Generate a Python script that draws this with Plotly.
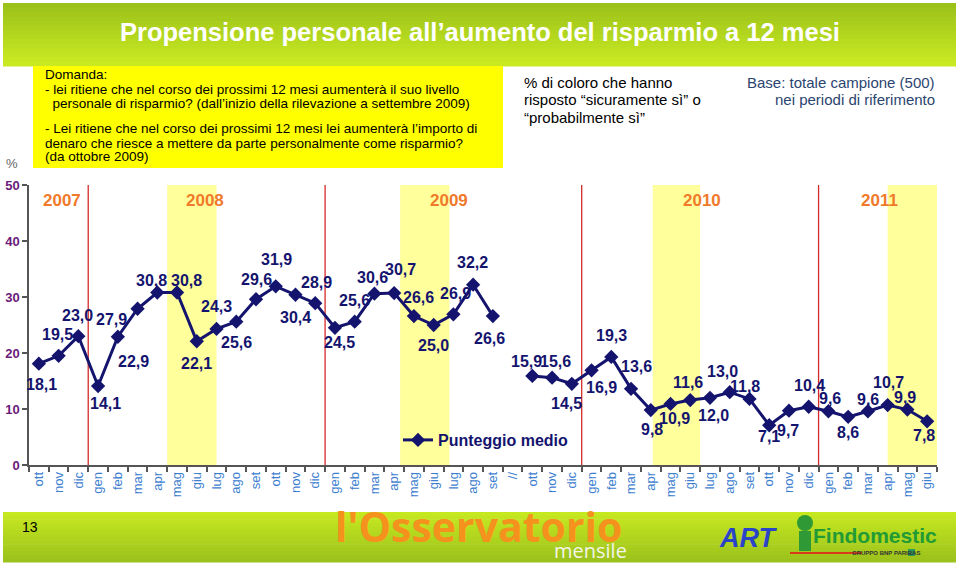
import plotly.graph_objects as go

# ---------------- data ----------------
months = ["ott", "nov", "dic",
          "gen", "feb", "mar", "apr", "mag", "giu", "lug", "ago", "set", "ott", "nov", "dic",
          "gen", "feb", "mar", "apr", "mag", "giu", "lug", "ago", "set", "//", "ott", "nov", "dic",
          "gen", "feb", "mar", "apr", "mag", "giu", "lug", "ago", "set", "ott", "nov", "dic",
          "gen", "feb", "mar", "apr", "mag", "giu"]
values = [18.1, 19.5, 23.0,
          14.1, 22.9, 27.9, 30.8, 30.8, 22.1, 24.3, 25.6, 29.6, 31.9, 30.4, 28.9,
          24.5, 25.6, 30.6, 30.7, 26.6, 25.0, 26.9, 32.2, 26.6, None, 15.9, 15.6, 14.5,
          16.9, 19.3, 13.6, 9.8, 10.9, 11.6, 12.0, 13.0, 11.8, 7.1, 9.7, 10.4,
          9.6, 8.6, 9.6, 10.7, 9.9, 7.8]
years = ["2007", "2008", "2009", "2010", "2011"]
year_label_pos = [1.15, 8.4, 20.8, 33.6, 42.6]
year_boundaries = [2.5, 14.5, 27.5, 39.5]
summer_bands = [(6.5, 9.0), (18.3, 20.8), (31.1, 33.5), (43.0, 45.7)]
series_name = "Punteggio medio"

# label offsets in pixels (dx right, dy down) -- style only
label_offsets = [(3, 21), (-1, -21), (-1, -21), (7, 17), (16, 25), (-26, 11), (-6, -12), (9, -12),
                 (0, 22), (0, -22), (0, 21), (0, -20), (1, -27), (0, 23), (1, -21), (5, 15),
                 (0, -21), (-2, -16), (6, -24), (5, -19), (0, 20), (2, -21), (-1, -22), (-3, 22),
                 None, (-6, -14), (3, -16), (-5, 20), (10, 17), (0, -21), (5, -22), (1, 19),
                 (4, 15), (-2, -18), (3, 18), (-7, -21), (-4, -12), (0, 11), (-1, 20), (1, -21),
                 (2, -13), (0, 16), (0, -12), (1, -23), (-2, -12), (-3, 14)]

# ---------------- layout geometry ----------------
W, H = 960, 563
L, R, T, B = 29, 23, 185, 98
PW, PH = W - L - R, H - T - B
FONT = "Liberation Sans, Arial, sans-serif"
NAVY = "#14146e"


def px(x):
    return (x - L) / PW


def py(y):
    return (H - B - y) / PH


xs = list(range(len(months)))

fig = go.Figure()
fig.add_trace(go.Scatter(
    x=xs, y=values, mode="lines+markers", name="<b>" + series_name + "</b>",
    line=dict(color=NAVY, width=3),
    marker=dict(symbol="diamond", size=11, color=NAVY),
    connectgaps=False, hoverinfo="skip"))

shapes = []
annotations = []

# summer bands
for x0, x1 in summer_bands:
    shapes.append(dict(type="rect", xref="x", yref="y", x0=x0, x1=x1, y0=0, y1=50.3,
                       fillcolor="#ffff9c", line=dict(width=0), layer="below"))
# year boundaries
for xb in year_boundaries:
    shapes.append(dict(type="line", xref="x", yref="y", x0=xb, x1=xb, y0=0, y1=50.3,
                       line=dict(color="#d42a2a", width=1.3), layer="below"))


def hex_mix(c1, c2, t):
    a = [int(c1[i:i + 2], 16) for i in (1, 3, 5)]
    b = [int(c2[i:i + 2], 16) for i in (1, 3, 5)]
    return "#%02x%02x%02x" % tuple(round(a[k] + (b[k] - a[k]) * t) for k in range(3))


def gradient_bar(y_top, y_bot, c_top, c_bot, n=14):
    h = (y_bot - y_top) / n
    for k in range(n):
        shapes.append(dict(type="rect", xref="paper", yref="paper",
                           x0=px(3), x1=px(956), y0=py(y_top + k * h), y1=py(y_top + (k + 1) * h + 0.6),
                           fillcolor=hex_mix(c_top, c_bot, k / (n - 1)), line=dict(width=0), layer="above"))


gradient_bar(3, 66, "#9cc21a", "#c9ea22")
gradient_bar(512, 562, "#c6e821", "#9cc21c")

# yellow question box
shapes.append(dict(type="rect", xref="paper", yref="paper", x0=px(33), x1=px(503), y0=py(168), y1=py(66),
                   fillcolor="#ffff00", line=dict(width=0), layer="above"))

# Findomestic underline + figure
shapes.append(dict(type="line", xref="paper", yref="paper", x0=px(790), x1=px(862), y0=py(553), y1=py(553),
                   line=dict(color="#d83a1a", width=2), layer="above"))
shapes.append(dict(type="circle", xref="paper", yref="paper", x0=px(797), x1=px(813), y0=py(531), y1=py(515),
                   fillcolor="#2f9a35", line=dict(width=0), layer="above"))
shapes.append(dict(type="rect", xref="paper", yref="paper", x0=px(799), x1=px(811), y0=py(551), y1=py(531),
                   fillcolor="#2f9a35", line=dict(width=0), layer="above"))
shapes.append(dict(type="rect", xref="paper", yref="paper", x0=px(908), x1=px(915), y0=py(556), y1=py(549),
                   fillcolor="#2a9a5a", line=dict(width=0), layer="above"))


def text(x, y, s, size=13, color="black", xanchor="center", align="left", family=FONT, yanchor="middle"):
    annotations.append(dict(xref="paper", yref="paper", x=px(x), y=py(y), text=s, showarrow=False,
                            xanchor=xanchor, yanchor=yanchor, align=align,
                            font=dict(size=size, color=color, family=family)))


# title
text(480, 32, "<b>Propensione personale all’aumento del risparmio a 12 mesi</b>", size=25.5, color="white")

# question box text
q_lines = ["Domanda:",
           "- lei ritiene che nel corso dei prossimi 12 mesi aumenterà il suo livello",
           "  personale di risparmio? (dall’inizio della rilevazione a settembre 2009)",
           "- Lei ritiene che nel corso dei prossimi 12 mesi lei aumenterà l’importo di",
           "denaro che riesce a mettere da parte personalmente come risparmio?",
           "(da ottobre 2009)"]
q_y = [74, 89, 104, 128, 143, 157]
for s, yy in zip(q_lines, q_y):
    text(43, yy, s.replace("  ", "&nbsp;&nbsp;"), size=13.5, xanchor="left")

r_lines = ["% di coloro che hanno", "risposto “sicuramente sì” o", "“probabilmente sì”"]
for s, yy in zip(r_lines, [82, 100, 118]):
    text(522, yy, s, size=15, xanchor="left")
b_lines = ["Base: totale campione (500)", "nei periodi di riferimento"]
for s, yy in zip(b_lines, [82, 100]):
    text(937, yy, s, size=15, color="#2b4570", xanchor="right")

text(12, 163, "%", size=13, color="#666666")
text(30, 527, "13", size=14)

# logos
text(478, 526, "<b>l'Osservatorio</b>", size=41, color="#f5921e", family="Open Sans, sans-serif")
text(590, 550, "mensile", size=20, color="#f4f4e8", family="Open Sans, sans-serif")
text(748, 538, "<b><i>ART</i></b>", size=27, color="#2a44c8", family=FONT)
text(875, 535, "<b>Findomestic</b>", size=21, color="#229a35", family=FONT)
text(886, 553, "<b>GRUPPO BNP PARIBAS</b>", size=6, color="#333333", family=FONT)

# year labels
for yl, xp in zip(years, year_label_pos):
    annotations.append(dict(xref="x", yref="y", x=xp, y=47.3, text="<b>" + yl + "</b>", showarrow=False,
                            font=dict(size=17, color="#f07a2a", family=FONT)))

# data labels
for i, v in enumerate(values):
    if v is None:
        continue
    dx, dy = label_offsets[i]
    annotations.append(dict(xref="x", yref="y", x=i, y=v, xshift=dx, yshift=-dy,
                            text="<b>" + ("%.1f" % v).replace(".", ",") + "</b>", showarrow=False,
                            font=dict(size=16, color=NAVY, family=FONT)))

fig.update_layout(
    width=W, height=H, margin=dict(l=L, r=R, t=T, b=B, autoexpand=False),
    paper_bgcolor="white", plot_bgcolor="white",
    font=dict(family=FONT),
    shapes=shapes, annotations=annotations,
    showlegend=True,
    legend=dict(x=px(398), y=py(440), xanchor="left", yanchor="middle", bgcolor="rgba(0,0,0,0)",
                font=dict(size=16, color=NAVY, family=FONT), itemwidth=30),
    xaxis=dict(range=[-0.5, len(months) - 0.5], tickmode="array", tickvals=xs, ticktext=months,
               tickangle=-90, ticks="", showgrid=False, zeroline=False,
               showline=True, linecolor="#555555", linewidth=1.5,
               tickfont=dict(size=13, color="#3d80cf", family=FONT),
               minor=dict(tickmode="array", tickvals=[k - 0.5 for k in range(len(months) + 1)],
                          ticks="outside", ticklen=5, tickcolor="#555555", tickwidth=1.5, showgrid=False)),
    yaxis=dict(range=[0, 50], tickmode="array", tickvals=[0, 10, 20, 30, 40, 50],
               ticktext=["<b>%d</b>" % t for t in [0, 10, 20, 30, 40, 50]],
               ticks="outside", ticklen=5, tickcolor="#555555", tickwidth=1.5,
               showgrid=False, zeroline=False, showline=True, linecolor="#555555", linewidth=1.5,
               tickfont=dict(size=13, color="#6b1a7a", family=FONT)),
)

fig.write_html("out.html", config={"displayModeBar": False},
               post_script="document.body.style.margin='0px';document.body.style.overflow='hidden';")
